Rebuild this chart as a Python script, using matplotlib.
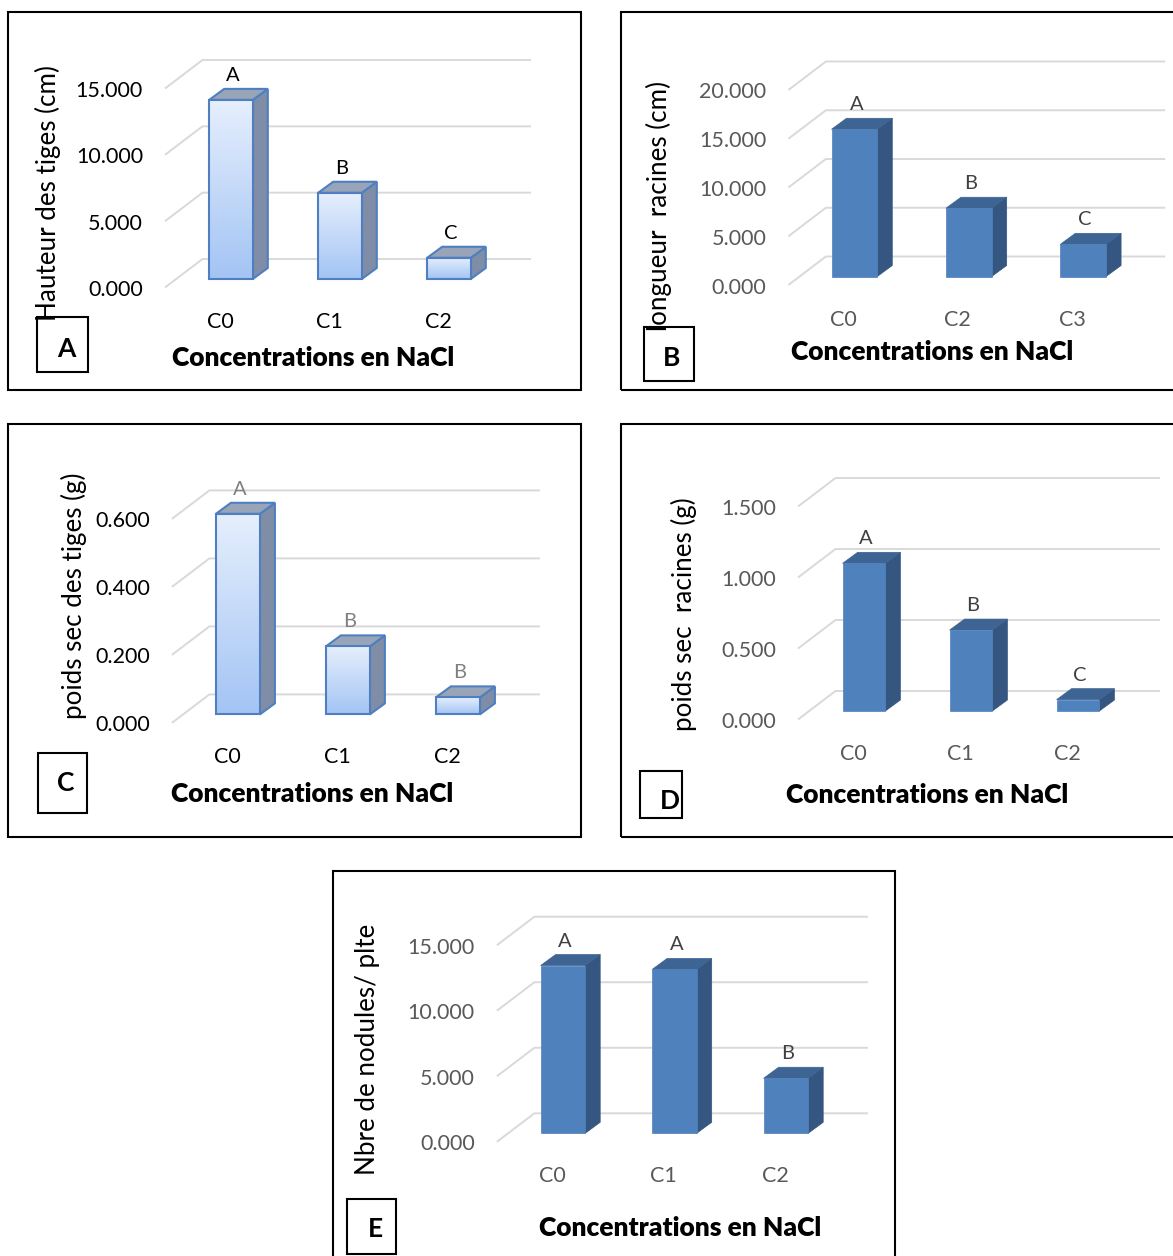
import numpy as np
import matplotlib
matplotlib.use("Agg")
import matplotlib.pyplot as plt
from matplotlib.patches import Polygon, Rectangle
from matplotlib.colors import LinearSegmentedColormap

plt.rcParams['font.family'] = ['Lato', 'DejaVu Sans']

W, H = 1173, 1256

# ---- data -------------------------------------------------------------
categories_a = ['C0', 'C1', 'C2']
hauteur_tiges = [13.5, 6.5, 1.6]
groupes_a = ['A', 'B', 'C']
ticks_a = [0, 5, 10, 15]

categories_b = ['C0', 'C2', 'C3']
longueur_racines = [15.1, 7.0, 3.3]
groupes_b = ['A', 'B', 'C']
ticks_b = [0, 5, 10, 15, 20]

categories_c = ['C0', 'C1', 'C2']
poids_sec_tiges = [0.59, 0.20, 0.05]
groupes_c = ['A', 'B', 'B']
ticks_c = [0, 0.2, 0.4, 0.6]

categories_d = ['C0', 'C1', 'C2']
poids_sec_racines = [1.04, 0.57, 0.08]
groupes_d = ['A', 'B', 'C']
ticks_d = [0, 0.5, 1.0, 1.5]

categories_e = ['C0', 'C1', 'C2']
nodules = [12.8, 12.5, 4.2]
groupes_e = ['A', 'A', 'B']
ticks_e = [0, 5, 10, 15]

XLABEL = 'Concentrations en NaCl'

# ---- styling ----------------------------------------------------------
GRID = '#d9d9d9'
LIGHT_EDGE = '#4f7fc0'
LIGHT_SIDE = '#7f8da6'
LIGHT_TOP = '#98a5b9'
light_cmap = LinearSegmentedColormap.from_list('lightbar', ['#a3c4f4', '#e6effd'])
DARK_FRONT = '#4f81bd'
DARK_SIDE = '#345681'
DARK_TOP = '#3d6493'

# 3-D look, in pixels
FRONT_DROP = 8.5      # floor front edge below the bar plane
BACK_RISE = 20.0      # back wall base above the bar plane
WALL_XF = -66.0       # floor front-left corner, from first category
WALL_XB = -28.5       # back wall left edge, from first category
WALL_RIGHT = 82.0     # back wall right end, past last category
BAR_DX, BAR_DY = 15.0, 11.0
BAR_W = 0.4

fig = plt.figure(figsize=(W / 100, H / 100), dpi=100)
fig.patch.set_facecolor('white')


def panel(frame, x0, step, y0, span, ticks, cats, vals, groups, ylabel,
          ylabel_xy, title_xy, tag, tag_box, tag_xy, style,
          tick_color, cat_color, grp_color, fmt):
    L, T, R, B = frame
    ax = fig.add_axes([L / W, 1 - B / H, (R - L) / W, (B - T) / H])
    ppu = span / ticks[-1]
    ax.set_xlim((L - x0) / step, (R - x0) / step)
    ax.set_ylim((y0 - B) / ppu, (y0 - T) / ppu)
    ax.axis('off')

    def fr(px, py):
        return (px - L) / (R - L), (B - py) / (B - T)

    sx = lambda p: p / step
    sy = lambda p: p / ppu
    n = len(vals)
    xf, xb = sx(WALL_XF), sx(WALL_XB)
    xr = (n - 1) + sx(WALL_RIGHT)
    fdrop, brise = sy(FRONT_DROP), sy(BACK_RISE)

    # walls: gridlines with their floor diagonals, tick labels on the front edge
    for t in ticks:
        ax.plot([xf, xb, xr], [t - fdrop, t + brise, t + brise],
                color=GRID, lw=1.4, zorder=1, solid_capstyle='butt')
        ax.text(xf - sx(22), t - fdrop - sy(2.5), fmt.format(t), ha='right',
                va='center', fontsize=15.5, color=tick_color)

    ddx, ddy = sx(BAR_DX), sy(BAR_DY)
    for i, (v, g, c) in enumerate(zip(vals, groups, cats)):
        left, right = i - BAR_W / 2, i + BAR_W / 2
        if style == 'light':
            face = ax.bar(i, v, width=BAR_W, color='none', edgecolor=LIGHT_EDGE,
                          lw=1.5, zorder=5)[0]
            grad = np.linspace(0, 1, 256).reshape(-1, 1)
            img = ax.imshow(grad, extent=(left, right, 0, v), cmap=light_cmap,
                            aspect='auto', origin='lower', zorder=4,
                            interpolation='bilinear')
            img.set_clip_path(face)
            side_c, top_c, ec, lw = LIGHT_SIDE, LIGHT_TOP, LIGHT_EDGE, 1.5
        else:
            ax.bar(i, v, width=BAR_W, color=DARK_FRONT, edgecolor=DARK_FRONT,
                   lw=0.5, zorder=5)
            side_c, top_c, ec, lw = DARK_SIDE, DARK_TOP, None, 0.5
        side = Polygon([(right, 0), (right + ddx, ddy), (right + ddx, v + ddy), (right, v)],
                       closed=True, facecolor=side_c, edgecolor=ec or side_c, lw=lw, zorder=3)
        top = Polygon([(left, v), (left + ddx, v + ddy), (right + ddx, v + ddy), (right, v)],
                      closed=True, facecolor=top_c, edgecolor=ec or top_c, lw=lw, zorder=3)
        ax.add_patch(side)
        ax.add_patch(top)
        ax.annotate(g, (i, v), xytext=(2, 24.5), textcoords='offset pixels',
                    ha='center', va='center', fontsize=14.5, color=grp_color)
        ax.text(i - sx(11), -sy(43), c, ha='center', va='center',
                fontsize=15.5, color=cat_color)

    # panel frame
    ax.add_patch(Rectangle((0, 0), 1, 1, transform=ax.transAxes, fill=False,
                           edgecolor='black', lw=1.5, clip_on=False, zorder=10))
    # tag box
    bl, bt, br, bb = tag_box
    x1, y1 = fr(bl, bb)
    x2, y2 = fr(br, bt)
    ax.add_patch(Rectangle((x1, y1), x2 - x1, y2 - y1, transform=ax.transAxes,
                           facecolor='white', edgecolor='black', lw=1.5,
                           clip_on=False, zorder=6))
    tx, ty = fr(*tag_xy)
    ax.text(tx, ty, tag, transform=ax.transAxes, ha='center', va='center',
            fontsize=19, fontweight='bold', color='black', zorder=7)
    # axis titles
    lx, ly = fr(*ylabel_xy)
    ax.text(lx, ly, ylabel, transform=ax.transAxes, rotation=90, ha='center',
            va='center', fontsize=18.7, color='black', zorder=8)
    cx, cy = fr(*title_xy)
    ax.text(cx, cy, XLABEL, transform=ax.transAxes, ha='center', va='center',
            fontsize=19, fontweight='heavy', color='black', zorder=8)
    return ax


GRAY = '#595959'
DGRAY = '#404040'

panel((8, 12, 581, 390), 231, 109, 279, 199, ticks_a, categories_a, hauteur_tiges,
      groupes_a, 'Hauteur des tiges (cm)', (48, 193.5), (313.5, 358),
      'A', (37, 317, 88, 372), (66, 349), 'light', 'black', 'black', 'black', '{:.3f}')

panel((621, 12, 1185, 390), 854.4, 114.4, 276.5, 195, ticks_b, categories_b,
      longueur_racines, groupes_b, 'longueur  racines (cm)', (659, 206), (932.5, 352),
      'B', (644, 327, 694, 381), (672, 358), 'dark', GRAY, GRAY, DGRAY, '{:.3f}')

panel((8, 424, 581, 837), 237.9, 110, 714.4, 204, ticks_c, categories_c,
      poids_sec_tiges, groupes_c, 'poids sec des tiges (g)', (74, 596), (312, 794),
      'C', (38, 753, 87, 813), (65.5, 783), 'light', 'black', 'black', '#808080', '{:.3f}')

panel((621, 424, 1185, 837), 864, 107, 711, 213, ticks_d, categories_d,
      poids_sec_racines, groupes_d, 'poids sec  racines (g)', (684, 614.5), (927.5, 795),
      'D', (640, 771, 682, 818), (670, 801), 'dark', GRAY, GRAY, DGRAY, '{:.3f}')

panel((333, 871, 895, 1262), 562.9, 111.5, 1133.3, 196.6, ticks_e, categories_e,
      nodules, groupes_e, 'Nbre de nodules/ plte', (368, 1049), (680, 1228),
      'E', (347, 1199, 396, 1254), (375.5, 1229), 'dark', GRAY, GRAY, DGRAY, '{:.3f}')

fig.savefig('out.png', dpi=100, facecolor='white')
